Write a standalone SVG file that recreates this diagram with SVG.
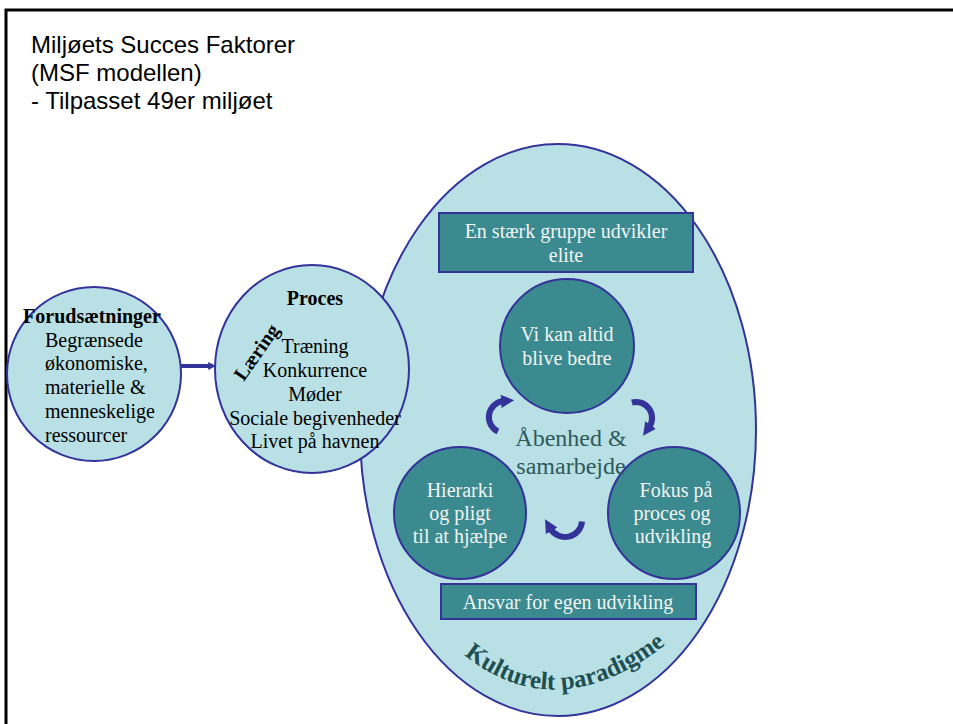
<svg xmlns="http://www.w3.org/2000/svg" width="953" height="724" viewBox="0 0 953 724">
<defs>
<style>
.light{fill:#b9e0e4;stroke:#333399;stroke-width:2}
.teal{fill:#3a8a8f;stroke:#333399;stroke-width:2}
.ser{font-family:"Liberation Serif","Times New Roman",serif;font-size:20px}
.blk{fill:#000}
.wht{fill:#f4f4f4}
.title{font-family:"Liberation Sans",Arial,sans-serif;font-size:24px;fill:#000}
.arc{fill:none;stroke:#333399;stroke-width:6}
.mid{font-family:"Liberation Serif","Times New Roman",serif;font-size:24px;fill:#2d5a5b}
</style>
<marker id="ah" viewBox="0 0 10 10" refX="2" refY="5" markerWidth="2.2" markerHeight="2.4" orient="auto">
<path d="M0,0 L10,5 L0,10 z" fill="#333399"/>
</marker>
<marker id="ah2" viewBox="0 0 10 10" refX="1" refY="5" markerWidth="2" markerHeight="3" orient="auto">
<path d="M0,0 L10,5 L0,10 z" fill="#333399"/>
</marker>
<path id="kp" d="M 456 648 Q 555 736 674 638"/>
</defs>
<rect x="0" y="0" width="953" height="724" fill="#fff"/>
<path d="M6 724 V10 H953" fill="none" stroke="#000" stroke-width="3"/>
<g id="title">
<text class="title" x="31" y="53">Miljøets Succes Faktorer</text>
<text class="title" x="31" y="81">(MSF modellen)</text>
<text class="title" x="31" y="109">- Tilpasset 49er miljøet</text>
</g>
<g id="kultur">
<ellipse class="light" cx="558" cy="430" rx="198" ry="286"/>
<text font-family="'Liberation Serif','Times New Roman',serif" font-size="25" font-weight="bold" fill="#1f4f50"><textPath href="#kp" startOffset="50%" text-anchor="middle">Kulturelt paradigme</textPath></text>
</g>
<g id="forud">
<circle class="light" cx="94" cy="374" r="87"/>
<text class="ser blk" x="92" y="323" text-anchor="middle" font-weight="bold">Forudsætninger</text>
<text class="ser blk" x="45" y="347">Begrænsede</text>
<text class="ser blk" x="45" y="370">økonomiske,</text>
<text class="ser blk" x="45" y="394">materielle &amp;</text>
<text class="ser blk" x="45" y="418">menneskelige</text>
<text class="ser blk" x="45" y="442">ressourcer</text>
</g>
<g id="proces">
<ellipse class="light" cx="312" cy="369" rx="97" ry="104"/>
<text class="ser blk" x="315" y="305" text-anchor="middle" font-weight="bold">Proces</text>
<text class="ser blk" x="0" y="0" font-size="23" font-weight="bold" text-anchor="middle" transform="translate(262 356) rotate(-55)">Læring</text>
<text class="ser blk" x="315" y="353" text-anchor="middle">Træning</text>
<text class="ser blk" x="315" y="377" text-anchor="middle">Konkurrence</text>
<text class="ser blk" x="315" y="401" text-anchor="middle">Møder</text>
<text class="ser blk" x="315" y="425" text-anchor="middle">Sociale begivenheder</text>
<text class="ser blk" x="315" y="448" text-anchor="middle">Livet på havnen</text>
</g>
<g id="top-box">
<rect class="teal" x="439" y="213" width="254" height="59"/>
<text class="ser wht" x="566" y="238" text-anchor="middle">En stærk gruppe udvikler</text>
<text class="ser wht" x="566" y="262" text-anchor="middle">elite</text>
</g>
<g id="vi-kan">
<circle class="teal" cx="567" cy="346" r="67"/>
<text class="ser wht" x="567" y="341" text-anchor="middle">Vi kan altid</text>
<text class="ser wht" x="567" y="365" text-anchor="middle">blive bedre</text>
</g>
<g id="hierarki">
<circle class="teal" cx="460" cy="513" r="66"/>
<text class="ser wht" x="460" y="497" text-anchor="middle">Hierarki</text>
<text class="ser wht" x="460" y="520" text-anchor="middle">og pligt</text>
<text class="ser wht" x="460" y="543" text-anchor="middle">til at hjælpe</text>
</g>
<g id="fokus">
<circle class="teal" cx="674" cy="513" r="66"/>
<text class="ser wht" x="676" y="497" text-anchor="middle">Fokus på</text>
<text class="ser wht" x="672" y="520" text-anchor="middle">proces og</text>
<text class="ser wht" x="673" y="543" text-anchor="middle">udvikling</text>
</g>
<g id="bottom-box">
<rect class="teal" x="441" y="584" width="255" height="35"/>
<text class="ser wht" x="568" y="609" text-anchor="middle">Ansvar for egen udvikling</text>
</g>
<g id="center">
<text class="mid" x="571" y="446" text-anchor="middle">Åbenhed &amp;</text>
<text class="mid" x="571" y="474" text-anchor="middle">samarbejde</text>
</g>
<g id="connectors">
<path d="M181 366 H209" stroke="#333399" stroke-width="4" fill="none" marker-end="url(#ah2)"/>
<path class="arc" d="M498 431.5 A16 16 0 0 1 503.6 401.1" marker-end="url(#ah)"/>
<path class="arc" d="M631.9 402.5 A16 16 0 0 1 649.1 427.2" marker-end="url(#ah)"/>
<path class="arc" d="M582 521.5 A17 17 0 0 1 550.3 528.5" marker-end="url(#ah)"/>
</g>
</svg>
